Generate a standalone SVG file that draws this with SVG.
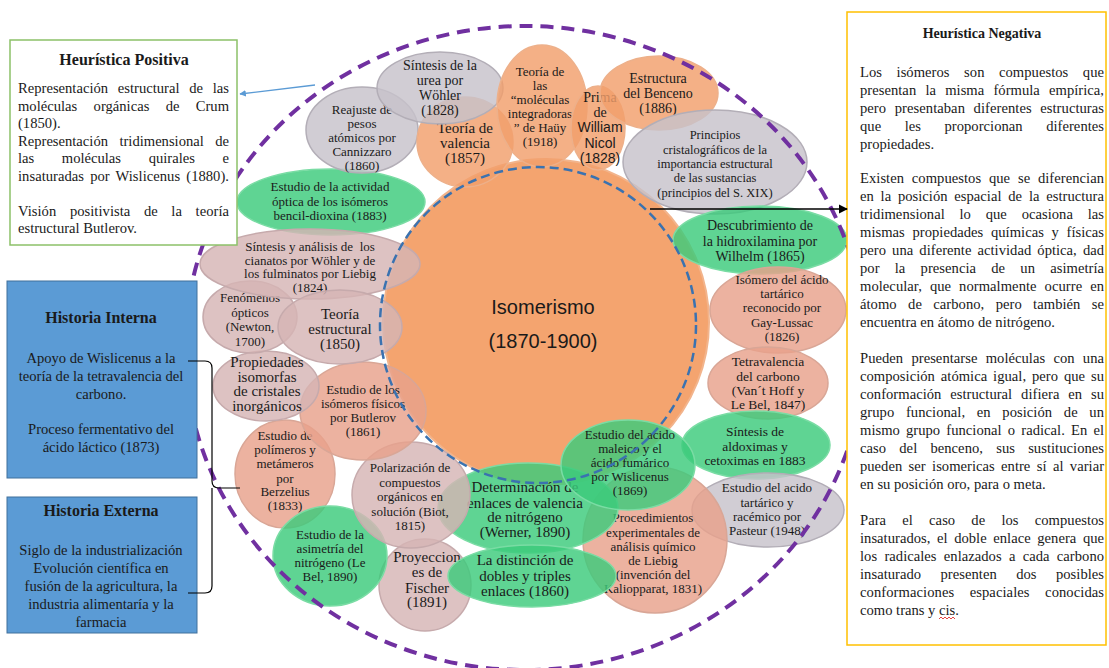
<svg xmlns="http://www.w3.org/2000/svg" width="1109" height="668" viewBox="0 0 1109 668">
<style>
.s{font-family:"Liberation Serif","Times New Roman",serif;fill:#1a1a1a}
.ss{font-family:"Liberation Sans",Arial,sans-serif;fill:#1a1a1a}
.nd text{text-anchor:middle}
.nd ellipse{stroke-width:1.5;fill-opacity:.82}
.gray{fill:#C7C2CA;stroke:#B3AEB7}
.orange{fill:#F19F6B;stroke:#EDB08A}
.salmon{fill:#E8A18B;stroke:#D9A696}
.mauve{fill:#D6B4B5;stroke:#C6AAAC}
.green{fill:#3CCB7B;stroke:#7ADCA4}
.f12{font-size:12.5px}.f13{font-size:13px}.f135{font-size:13.5px}.f14{font-size:14px}.f15{font-size:15px}
.body{font-size:14.6px}
.tit{font-size:16px;font-weight:bold}
.c{text-anchor:middle}
.con{fill:none;stroke:#000;stroke-width:1.2}
</style>
<defs>
<marker id="ah" viewBox="0 0 10 10" refX="9" refY="5" markerWidth="7" markerHeight="7" orient="auto"><path d="M0,0 L10,5 L0,10 z" fill="#000"/></marker>
<marker id="ahb" viewBox="0 0 10 10" refX="9" refY="5" markerWidth="5" markerHeight="5" orient="auto"><path d="M0,0 L10,5 L0,10 z" fill="#5B9BD5"/></marker>
</defs>
<rect width="1109" height="668" fill="#fff"/>

<g id="n-isomerismo">
<circle cx="546" cy="322" r="163" fill="#F4A46F" stroke="#F2B48C" stroke-width="2"/>
<text class="ss c" x="543" y="314" font-size="20">Isomerismo</text>
<text class="ss c" x="543" y="348" font-size="20">(1870-1900)</text>
</g>

<g id="nodes">
<g id="n-bencil" class="nd"><ellipse class="green" cx="331" cy="202" rx="94" ry="33"/>
<text class="s f13"><tspan x="330" y="191">Estudio de la actividad</tspan><tspan x="330" y="206">óptica de los isómeros</tspan><tspan x="330" y="220">bencil-dioxina (1883)</tspan></text></g>
<g id="n-reajuste" class="nd"><ellipse class="gray" cx="362" cy="130" rx="56" ry="43"/>
<text class="s f13"><tspan x="362" y="114">Reajuste de</tspan><tspan x="362" y="128">pesos</tspan><tspan x="362" y="142">atómicos por</tspan><tspan x="362" y="156">Cannizzaro</tspan><tspan x="362" y="170">(1860)</tspan></text></g>
<g id="n-valencia" class="nd"><ellipse class="orange" cx="465" cy="142" rx="48" ry="45"/>
<text class="s f15"><tspan x="465" y="133">Teoría de</tspan><tspan x="465" y="148">valencia</tspan><tspan x="465" y="163">(1857)</tspan></text></g>
<g id="n-urea" class="nd"><ellipse class="gray" cx="440" cy="88" rx="63" ry="36"/>
<text class="s f14"><tspan x="440" y="69.5">Síntesis de la</tspan><tspan x="440" y="84.5">urea por</tspan><tspan x="440" y="99.5">Wöhler</tspan><tspan x="440" y="114.5">(1828)</tspan></text></g>
<g id="n-hauy" class="nd"><ellipse class="orange" cx="542" cy="106" rx="45" ry="61"/>
<text class="s f13"><tspan x="540" y="76">Teoría de</tspan><tspan x="540" y="90">las</tspan><tspan x="540" y="104">“moléculas</tspan><tspan x="540" y="118">integradoras</tspan><tspan x="540" y="132">” de Haüy</tspan><tspan x="540" y="146">(1918)</tspan></text></g>
<g id="n-nicol" class="nd"><ellipse class="orange" cx="598" cy="128" rx="27" ry="42"/>
<text class="s f14"><tspan x="600" y="102">Prima</tspan><tspan x="600" y="117">de</tspan></text>
<text class="ss f14"><tspan x="600" y="132">William</tspan><tspan x="600" y="148">Nicol</tspan><tspan x="600" y="163">(1828)</tspan></text></g>
<g id="n-benceno" class="nd"><ellipse class="orange" cx="659" cy="93" rx="59" ry="37"/>
<text class="s f14"><tspan x="658" y="83">Estructura</tspan><tspan x="658" y="98">del Benceno</tspan><tspan x="658" y="113">(1886)</tspan></text></g>
<g id="n-principios" class="nd"><ellipse class="gray" cx="715" cy="162" rx="92" ry="52"/>
<text class="s f12"><tspan x="715" y="139">Principios</tspan><tspan x="715" y="153.5">cristalográficos de la</tspan><tspan x="715" y="168">importancia estructural</tspan><tspan x="715" y="182">de las sustancias</tspan><tspan x="715" y="196.5">(principios del S. XIX)</tspan></text></g>
<g id="n-hidroxilamina" class="nd"><ellipse class="green" cx="760" cy="240" rx="87" ry="34"/>
<text class="s f14"><tspan x="760" y="230">Descubrimiento de</tspan><tspan x="760" y="246">la hidroxilamina por</tspan><tspan x="760" y="261">Wilhelm (1865)</tspan></text></g>
<g id="n-gaylussac" class="nd"><ellipse class="salmon" cx="778" cy="310" rx="68" ry="43"/>
<text class="s f13"><tspan x="782" y="284">Isómero del ácido</tspan><tspan x="782" y="298">tartárico</tspan><tspan x="782" y="312">reconocido por</tspan><tspan x="782" y="327">Gay-Lussac</tspan><tspan x="782" y="341">(1826)</tspan></text></g>
<g id="n-tetravalencia" class="nd"><ellipse class="salmon" cx="768" cy="383" rx="60" ry="36"/>
<text class="s f135"><tspan x="768" y="366">Tetravalencia</tspan><tspan x="768" y="381">del carbono</tspan><tspan x="768" y="395">(Van´t Hoff y</tspan><tspan x="768" y="409">Le Bel, 1847)</tspan></text></g>
<g id="n-aldoximas" class="nd"><ellipse class="green" cx="756" cy="445" rx="74" ry="34"/>
<text class="s f135"><tspan x="755" y="436">Síntesis de</tspan><tspan x="755" y="451">aldoximas y</tspan><tspan x="755" y="465">cetoximas en 1883</tspan></text></g>
<g id="n-pasteur" class="nd"><ellipse class="gray" cx="768" cy="510" rx="76" ry="37"/>
<text class="s f13"><tspan x="767" y="492">Estudio del acido</tspan><tspan x="767" y="507">tartárico y</tspan><tspan x="767" y="521">racémico por</tspan><tspan x="767" y="535">Pasteur (1948)</tspan></text></g>
<g id="n-liebig" class="nd"><ellipse class="salmon" cx="655" cy="540" rx="72" ry="73"/>
<text class="s f13"><tspan x="653" y="522">Procedimientos</tspan><tspan x="653" y="537">experimentales de</tspan><tspan x="653" y="551">análisis químico</tspan><tspan x="653" y="565">de Liebig</tspan><tspan x="653" y="579">(invención del</tspan><tspan x="653" y="593">Kaliopparat, 1831)</tspan></text></g>
<g id="n-werner" class="nd"><ellipse class="green" cx="528" cy="508" rx="90" ry="45"/>
<text class="s f15"><tspan x="525" y="492">Determinación de</tspan><tspan x="525" y="508">enlaces de valencia</tspan><tspan x="525" y="522">de nitrógeno</tspan><tspan x="525" y="537">(Werner, 1890)</tspan></text></g>
<g id="n-maleico" class="nd"><ellipse class="green" cx="628" cy="465" rx="67" ry="45"/>
<text class="s f13"><tspan x="630" y="439">Estudio del acido</tspan><tspan x="630" y="453">maleico y el</tspan><tspan x="630" y="467">ácido fumárico</tspan><tspan x="630" y="481">por Wislicenus</tspan><tspan x="630" y="495">(1869)</tspan></text></g>
<g id="n-fischer" class="nd"><ellipse class="mauve" cx="425" cy="585" rx="46" ry="46"/>
<text class="s f15"><tspan x="427" y="562">Proyeccion</tspan><tspan x="427" y="577">es de</tspan><tspan x="427" y="593">Fischer</tspan><tspan x="427" y="607">(1891)</tspan></text></g>
<g id="n-dobles" class="nd"><ellipse class="green" cx="532" cy="576" rx="84" ry="31"/>
<text class="s f15"><tspan x="525" y="565">La distinción de</tspan><tspan x="525" y="580.5">dobles y triples</tspan><tspan x="525" y="596">enlaces (1860)</tspan></text></g>
<g id="n-berzelius" class="nd"><ellipse class="salmon" cx="285" cy="474" rx="50" ry="54"/>
<text class="s f13"><tspan x="285" y="440">Estudio de</tspan><tspan x="285" y="454">polímeros y</tspan><tspan x="285" y="468">metámeros</tspan><tspan x="285" y="483">por</tspan><tspan x="285" y="496">Berzelius</tspan><tspan x="285" y="510">(1833)</tspan></text></g>
<g id="n-lebel" class="nd"><ellipse class="green" cx="330" cy="556" rx="57" ry="50"/>
<text class="s f13"><tspan x="330" y="539">Estudio de la</tspan><tspan x="330" y="553">asimetría del</tspan><tspan x="330" y="567">nitrógeno (Le</tspan><tspan x="330" y="581">Bel, 1890)</tspan></text></g>
<g id="n-biot" class="nd"><ellipse class="mauve" cx="411" cy="495" rx="59" ry="53"/>
<text class="s f13"><tspan x="410" y="472">Polarización de</tspan><tspan x="410" y="486.5">compuestos</tspan><tspan x="410" y="501">orgánicos en</tspan><tspan x="410" y="515.5">solución (Biot,</tspan><tspan x="410" y="530">1815)</tspan></text></g>
<g id="n-butlerov" class="nd"><ellipse class="salmon" cx="363" cy="411" rx="63" ry="49"/>
<text class="s f13"><tspan x="363" y="394">Estudio de los</tspan><tspan x="363" y="408">isómeros físicos</tspan><tspan x="363" y="422">por Butlerov</tspan><tspan x="363" y="436">(1861)</tspan></text></g>
<g id="n-propiedades" class="nd"><ellipse class="mauve" cx="266" cy="386" rx="53" ry="35"/>
<text class="s f15"><tspan x="267" y="367">Propiedades</tspan><tspan x="267" y="381.5">isomorfas</tspan><tspan x="267" y="396">de cristales</tspan><tspan x="267" y="411">inorgánicos</tspan></text></g>
<g id="n-newton" class="nd"><ellipse class="mauve" cx="250" cy="317" rx="47" ry="36"/>
<text class="s f13"><tspan x="250" y="302">Fenómenos</tspan><tspan x="250" y="317">ópticos</tspan><tspan x="250" y="331">(Newton,</tspan><tspan x="250" y="346">1700)</tspan></text></g>
<g id="n-cianatos" class="nd"><ellipse class="mauve" cx="310" cy="264" rx="110" ry="35"/>
<text class="s f13" xml:space="preserve"><tspan x="310" y="251">Síntesis y análisis de  los</tspan><tspan x="310" y="265">cianatos por Wöhler y de</tspan><tspan x="310" y="278">los fulminatos por Liebig</tspan><tspan x="310" y="292">(1824)</tspan></text></g>
<g id="n-estructural" class="nd"><ellipse class="mauve" cx="340" cy="327" rx="62" ry="37"/>
<text class="s f15"><tspan x="340" y="319">Teoría</tspan><tspan x="340" y="334">estructural</tspan><tspan x="340" y="349">(1850)</tspan></text></g>
</g>

<g id="rings" fill="none">
<ellipse cx="525" cy="348" rx="340" ry="322" stroke="#7030A0" stroke-width="4" stroke-dasharray="13 8"/>
<circle cx="538" cy="325" r="158" stroke="#3A72B0" stroke-width="2.5" stroke-dasharray="9 5"/>
</g>

<g id="b-positiva">
<rect x="10" y="40" width="227" height="205" fill="#fff" stroke="#8CC168" stroke-width="1.5"/>
<text class="s tit c" x="124" y="65">Heurística Positiva</text>
<g class="s body">
<text x="18" y="93" textLength="211" lengthAdjust="spacing" style="word-spacing:6.1px">Representación estructural de las</text>
<text x="18" y="110.5" textLength="211" lengthAdjust="spacing" style="word-spacing:12.6px">moléculas orgánicas de Crum</text>
<text x="18" y="128">(1850).</text>
<text x="18" y="145.5" textLength="211" lengthAdjust="spacing" style="word-spacing:7.8px">Representación tridimensional de</text>
<text x="18" y="163" textLength="211" lengthAdjust="spacing" style="word-spacing:24px">las moléculas quirales e</text>
<text x="18" y="180.5" textLength="211" lengthAdjust="spacing" style="word-spacing:2.4px">insaturadas por Wislicenus (1880).</text>
<text x="18" y="215.5" textLength="211" lengthAdjust="spacing" style="word-spacing:9.9px">Visión positivista de la teoría</text>
<text x="18" y="233">estructural Butlerov.</text>
</g>
</g>

<g id="b-interna">
<rect x="7" y="281" width="190" height="197" fill="#5B9BD5" stroke="#41719C" stroke-width="1"/>
<text class="s tit c" x="101" y="323">Historia Interna</text>
<g class="s body c">
<text x="101" y="363">Apoyo de Wislicenus a la</text>
<text x="101" y="381">teoría de la tetravalencia del</text>
<text x="101" y="399">carbono.</text>
<text x="101" y="434">Proceso fermentativo del</text>
<text x="101" y="452">ácido láctico (1873)</text>
</g>
</g>

<g id="b-externa">
<rect x="7" y="497" width="190" height="136" fill="#5B9BD5" stroke="#41719C" stroke-width="1"/>
<text class="s tit c" x="101" y="516">Historia Externa</text>
<g class="s body c">
<text x="101" y="555">Siglo de la industrialización</text>
<text x="101" y="573">Evolución científica en</text>
<text x="101" y="591">fusión de la agricultura, la</text>
<text x="101" y="609">industria alimentaría y la</text>
<text x="101" y="627">farmacia</text>
</g>
</g>

<g id="b-negativa">
<rect x="847" y="12" width="259" height="633" fill="#fff" stroke="#FFC000" stroke-width="1.5"/>
<text class="s c" x="982" y="38" font-size="14" font-weight="bold">Heurística Negativa</text>
<g class="s body">
<text x="860" y="77" textLength="244" lengthAdjust="spacing" style="word-spacing:10.8px">Los isómeros son compuestos que</text>
<text x="860" y="95" textLength="244" lengthAdjust="spacing" style="word-spacing:5.5px">presentan la misma fórmula empírica,</text>
<text x="860" y="113" textLength="244" lengthAdjust="spacing" style="word-spacing:4.9px">pero presentaban diferentes estructuras</text>
<text x="860" y="131" textLength="244" lengthAdjust="spacing" style="word-spacing:19.8px">que les proporcionan diferentes</text>
<text x="860" y="149">propiedades.</text>
<text x="860" y="183" textLength="244" lengthAdjust="spacing" style="word-spacing:4.1px">Existen compuestos que se diferencian</text>
<text x="860" y="201" textLength="244" lengthAdjust="spacing" style="word-spacing:3.1px">en la posición espacial de la estructura</text>
<text x="860" y="219" textLength="244" lengthAdjust="spacing" style="word-spacing:11.1px">tridimensional lo que ocasiona las</text>
<text x="860" y="237" textLength="244" lengthAdjust="spacing" style="word-spacing:4px">mismas propiedades químicas y físicas</text>
<text x="860" y="255" textLength="244" lengthAdjust="spacing" style="word-spacing:2.4px">pero una diferente actividad óptica, dad</text>
<text x="860" y="273" textLength="244" lengthAdjust="spacing" style="word-spacing:11.5px">por la presencia de un asimetría</text>
<text x="860" y="291" textLength="244" lengthAdjust="spacing" style="word-spacing:4.3px">molecular, que normalmente ocurre en</text>
<text x="860" y="309" textLength="244" lengthAdjust="spacing" style="word-spacing:7.7px">átomo de carbono, pero también se</text>
<text x="860" y="327">encuentra en átomo de nitrógeno.</text>
<text x="860" y="363" textLength="244" lengthAdjust="spacing" style="word-spacing:4.6px">Pueden presentarse moléculas con una</text>
<text x="860" y="381" textLength="244" lengthAdjust="spacing" style="word-spacing:2.2px">composición atómica igual, pero que su</text>
<text x="860" y="399" textLength="244" lengthAdjust="spacing" style="word-spacing:5.2px">conformación estructural difiera en su</text>
<text x="860" y="417" textLength="244" lengthAdjust="spacing" style="word-spacing:8px">grupo funcional, en posición de un</text>
<text x="860" y="435" textLength="244" lengthAdjust="spacing" style="word-spacing:2.5px">mismo grupo funcional o radical. En el</text>
<text x="860" y="453" textLength="244" lengthAdjust="spacing" style="word-spacing:9.5px">caso del benceno, sus sustituciones</text>
<text x="860" y="471" textLength="244" lengthAdjust="spacing" style="word-spacing:2.7px">pueden ser isomericas entre sí al variar</text>
<text x="860" y="489">en su posición oro, para o meta.</text>
<text x="860" y="525" textLength="244" lengthAdjust="spacing" style="word-spacing:12.5px">Para el caso de los compuestos</text>
<text x="860" y="543" textLength="244" lengthAdjust="spacing" style="word-spacing:2.9px">insaturados, el doble enlace genera que</text>
<text x="860" y="561" textLength="244" lengthAdjust="spacing" style="word-spacing:3.6px">los radicales enlazados a cada carbono</text>
<text x="860" y="579" textLength="244" lengthAdjust="spacing" style="word-spacing:15.7px">insaturado presenten dos posibles</text>
<text x="860" y="597" textLength="244" lengthAdjust="spacing" style="word-spacing:11.8px">conformaciones espaciales conocidas</text>
<text x="860" y="615">como trans y cis.</text>
</g>
<path d="M939,619 l2,-2 l2,2 l2,-2 l2,2 l2,-2 l2,2 l2,-2 l2,2" fill="none" stroke="#E03030" stroke-width="0.9"/>
</g>

<g id="connectors">
<path class="con" d="M188,361 L205,361 Q212,361 212,368 L212,481 Q212,488 219,488 L240,488 M212,488 L212,586 Q212,593 205,593 L188,593"/>
<line x1="650" y1="209" x2="847" y2="209" stroke="#000" stroke-width="1.3" marker-end="url(#ah)"/>
<line x1="315" y1="85" x2="240" y2="94" stroke="#5B9BD5" stroke-width="1.3" marker-end="url(#ahb)"/>
</g>
</svg>
